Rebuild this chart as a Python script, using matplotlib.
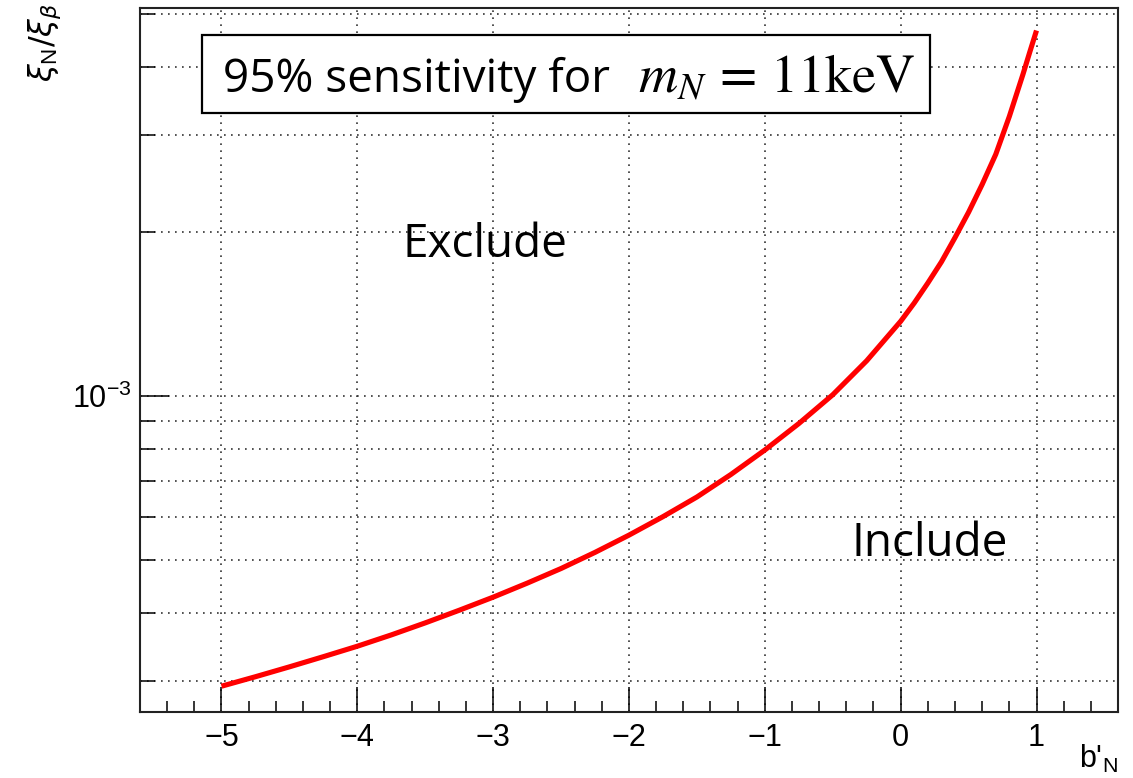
import matplotlib
matplotlib.use('Agg')
import matplotlib.pyplot as plt
from matplotlib.ticker import LogLocator, MultipleLocator, NullFormatter, LogFormatterSciNotation
from matplotlib.patches import Rectangle

plt.rcParams['font.family'] = ['Liberation Sans', 'DejaVu Sans']

# 读图得到的曲线数据 (b'_N, xi_N/xi_beta)
b_n = [-5.0, -4.75, -4.5, -4.25, -4.0, -3.75, -3.5, -3.25, -3.0, -2.75,
       -2.5, -2.25, -2.0, -1.75, -1.5, -1.25, -1.0, -0.75, -0.5, -0.25,
       0.0, 0.1, 0.2, 0.3, 0.4, 0.5, 0.6, 0.7, 0.8, 0.9, 0.95, 1.0]
xi_ratio = [2.94e-4, 3.06e-4, 3.19e-4, 3.33e-4, 3.48e-4, 3.65e-4, 3.84e-4, 4.05e-4,
            4.28e-4, 4.54e-4, 4.83e-4, 5.17e-4, 5.56e-4, 6.01e-4, 6.53e-4, 7.18e-4,
            7.96e-4, 8.9e-4, 1.005e-3, 1.16e-3, 1.37e-3, 1.48e-3, 1.61e-3, 1.76e-3,
            1.95e-3, 2.17e-3, 2.44e-3, 2.77e-3, 3.25e-3, 3.88e-3, 4.26e-3, 4.67e-3]

title_text = "95% sensitivity for"
title_math = "$m_N\\,=\\,11\\mathrm{keV}$"
x_range = (-5.6, 1.6)
y_range = (2.637e-4, 5.135e-3)

W, H = 1133, 778
fig = plt.figure(figsize=(W / 100, H / 100), dpi=100)
ax = fig.add_axes([140 / W, 1 - 712 / H, 978 / W, 704 / H])

ax.plot(b_n, xi_ratio, color='red', lw=3.7, solid_capstyle='butt',
        solid_joinstyle='round', zorder=4)

ax.set_yscale('log')
ax.set_xlim(*x_range)
ax.set_ylim(*y_range)

# 坐标轴刻度 (ROOT 风格, 朝内)
ax.xaxis.set_major_locator(MultipleLocator(1))
ax.xaxis.set_minor_locator(MultipleLocator(0.2))
ax.yaxis.set_major_locator(LogLocator(base=10))
ax.yaxis.set_minor_locator(LogLocator(base=10, subs=range(2, 10)))
ax.yaxis.set_major_formatter(LogFormatterSciNotation())
ax.yaxis.set_minor_formatter(NullFormatter())

ax.tick_params(axis='x', which='major', direction='in', length=18, width=1.1, pad=8,
               labelsize=22, top=False)
ax.tick_params(axis='x', which='minor', direction='in', length=8, width=1.1, top=False)
ax.tick_params(axis='y', which='major', direction='in', length=21, width=1.1, pad=6,
               labelsize=22, right=False)
ax.tick_params(axis='y', which='minor', direction='in', length=10.5, width=1.1, right=False)

for s in ax.spines.values():
    s.set_linewidth(1.5)
    s.set_color('#222222')

# 网格
grid_style = dict(color='#333333', linestyle=(0, (1, 3.2)), linewidth=1.2)
ax.grid(True, axis='x', which='major', **grid_style)
ax.grid(True, axis='y', which='both', **grid_style)
ax.set_axisbelow(True)

# 标注
ax.add_patch(Rectangle((0.0634, 0.8509), 0.7444, 0.1108, transform=ax.transAxes,
                       facecolor='white', edgecolor='black', lw=1.6, zorder=5))
ax.text(0.0849, 0.8807, title_text, transform=ax.transAxes, ha='left', va='baseline',
        fontsize=33, family=['Open Sans', 'DejaVu Sans'], zorder=6)
ax.text((638 - 140) / 978, 0.8807, title_math, transform=ax.transAxes, ha='left',
        va='baseline', fontsize=39, math_fontfamily='stix', zorder=6)
ax.text(0.2689, 0.6463, 'Exclude', transform=ax.transAxes, ha='left', va='baseline',
        fontsize=33, family=['Open Sans', 'DejaVu Sans'], zorder=6)
ax.text(0.728, 0.2216, 'Include', transform=ax.transAxes, ha='left', va='baseline',
        fontsize=33, family=['Open Sans', 'DejaVu Sans'], zorder=6)

# 轴标题
fig.text(45 / W, 1 - 3 / H, r'$\xi_{\mathregular{N}}/\xi_{\beta}$', rotation=90,
         ha='center', va='top', fontsize=23, math_fontfamily='dejavusans')
fig.text(1118 / W, 1 - 768 / H, r"b'$_{\mathregular{N}}$", ha='right', va='baseline',
         fontsize=22, math_fontfamily='dejavusans')

fig.savefig('out.png', dpi=100)
